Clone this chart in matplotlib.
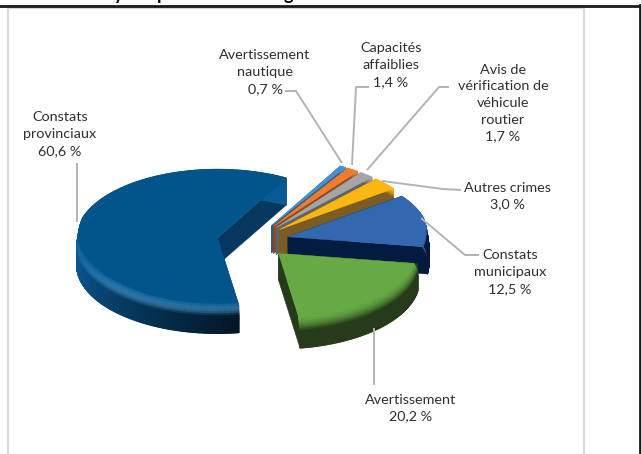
import numpy as np
import matplotlib
matplotlib.use("Agg")
import matplotlib.pyplot as plt
from matplotlib.patches import Polygon, Rectangle
from matplotlib.collections import PolyCollection

plt.rcParams["font.family"] = ["Lato", "DejaVu Sans"]

# counter-clockwise from the right, starting with Constats municipaux
categories = ["Constats\nmunicipaux", "Autres crimes", "Avis de\nvérification de\nvéhicule\nroutier",
              "Capacités\naffaiblies", "Avertissement\nnautique", "Constats\nprovinciaux", "Avertissement"]
values = [12.5, 3.0, 1.7, 1.4, 0.7, 60.6, 20.2]
value_labels = ["12,5 %", "3,0 %", "1,7 %", "1,4 %", "0,7 %", "60,6 %", "20,2 %"]
top_colors = ["#3268b0", "#fcb712", "#a5a5a5", "#ed7d31", "#4a90cf", "#02558b", "#66a945"]
side_colors = ["#021b3f", "#7b5c24", "#636363", "#8d4a1c", "#2a5a85", "#06385e", "#253b1a"]
highlights = [0.08, 0, 0, 0, 0, 0.16, 0]
draw_order = [4, 3, 2, 1, 0, 5, 6]

label_pos = [(510, 272), (507, 196), (503, 103), (391, 65), (265, 72), (60, 134), (411, 408)]
leaders = [
    [(421, 218), (465, 255), (479, 255)],
    [(382, 181), (443, 189), (461, 190)],
    [(367, 170), (439, 87), (449, 87)],
    [(352, 165), (356, 87), (369, 87)],
    [(342, 163), (296, 91), (285, 91)],
    [(77, 222), (77, 163)],
    [(374, 328), (374, 385)],
]
# bottoms of the cropped title, only these show in the picture
title_bits = [("y", 119), ("p", 162), ("g", 288)]

CX, CY = 253, 241
RX, RY = 141, 68.5
EXPLODE = 36
THICK = 27
BEVEL_H = 13
BEVEL_R = 0.07
START = -8.6


def hex_rgb(c):
    return np.array(matplotlib.colors.to_rgb(c))


def draw_slice(ax, a0, a1, top, side, glow):
    mid = np.radians((a0 + a1) / 2)
    ax_x = CX + EXPLODE * np.cos(mid)
    ax_y = CY - EXPLODE * np.sin(mid) * RY / RX
    ang = np.radians(np.linspace(a0, a1, max(int(a1 - a0), 2) * 2 + 1))

    def pt(t, r=1.0, h=0.0):
        return ax_x + r * RX * np.cos(t), ax_y - r * RY * np.sin(t) + h

    def front(t):
        return np.clip(-np.sin(t) + 0.3, 0, 1)

    # cut faces
    for t in (ang[0], ang[-1]):
        x, y = pt(t)
        ax.add_patch(Polygon([(ax_x, ax_y), (x, y), (x, y + THICK), (ax_x, ax_y + THICK)],
                             fc=side, ec=side, lw=0.3))

    # rounded bevel from the top face down to the wall, then the plain wall
    steps = np.linspace(0, 1, 9)
    ctop, cside = hex_rgb(top), hex_rgb(side)
    polys, cols = [], []
    for i in range(len(ang) - 1):
        t0, t1 = ang[i], ang[i + 1]
        f0, f1 = front(t0), front(t1)
        deg = np.degrees((t0 + t1) / 2)
        # only the big slice darkens along its wall
        fade = 1.0
        if a1 - a0 > 180:
            fade = 0.4 + 1.2 * np.clip((a1 - deg) / 95, 0, 1)
        for s0, s1 in zip(steps[:-1], steps[1:]):
            r0 = 1 - BEVEL_R * (1 - s0) ** 2
            r1 = 1 - BEVEL_R * (1 - s1) ** 2
            polys.append([pt(t0, 1 - (1 - r0) * f0, BEVEL_H * s0), pt(t1, 1 - (1 - r0) * f1, BEVEL_H * s0),
                          pt(t1, 1 - (1 - r1) * f1, BEVEL_H * s1), pt(t0, 1 - (1 - r1) * f0, BEVEL_H * s1)])
            w = min(s0 / 0.7, 1) ** 1.5
            c = ctop * (1 - w) + cside * fade * w + glow * f0 * np.sin(np.pi * min(s0 / 0.7, 1))
            cols.append(np.clip(c, 0, 1))
        polys.append([pt(t0, 1, BEVEL_H), pt(t1, 1, BEVEL_H), pt(t1, 1, THICK), pt(t0, 1, THICK)])
        cols.append(np.clip(cside * fade, 0, 1))
    ax.add_collection(PolyCollection(polys, facecolors=cols, edgecolors=cols, linewidths=0.8))

    # top face
    rim = 1 - BEVEL_R * front(ang)
    xs, ys = pt(ang, rim)
    ax.add_patch(Polygon(np.vstack([[ax_x, ax_y], np.column_stack([xs, ys])]), fc=top, ec=top, lw=0.3))


fig = plt.figure(figsize=(6.41, 4.54), dpi=100)
ax = fig.add_axes([0, 0, 1, 1])
ax.set_xlim(0, 641)
ax.set_ylim(454, 0)
ax.axis("off")

# page frame and chart frame
ax.add_patch(Rectangle((7.5, 8), 576.5, 460, fc="white", ec="#d9d9d9", lw=1.5))
ax.plot([0, 641], [5.5, 5.5], color="#1a1a1a", lw=2)
ax.plot([639.7, 639.7], [5, 454], color="#1a1a1a", lw=2)
for ch, x in title_bits:
    ax.text(x, 0, ch, ha="center", va="baseline", fontsize=13, fontweight="bold", color="black")

# slice angles come straight from the values
edges = START + np.concatenate([[0], np.cumsum(values)]) / sum(values) * 360
for i in draw_order:
    draw_slice(ax, edges[i], edges[i + 1], top_colors[i], side_colors[i], highlights[i])

for line in leaders:
    ax.plot(*zip(*line), color="#b3b3b3", lw=1.4, solid_capstyle="butt", zorder=5)

for name, val, (x, y) in zip(categories, value_labels, label_pos):
    ax.text(x, y, name + "\n" + val, ha="center", va="center", fontsize=10.4,
            color="#303030", linespacing=1.47, zorder=6)

fig.savefig("out.png", dpi=100)
